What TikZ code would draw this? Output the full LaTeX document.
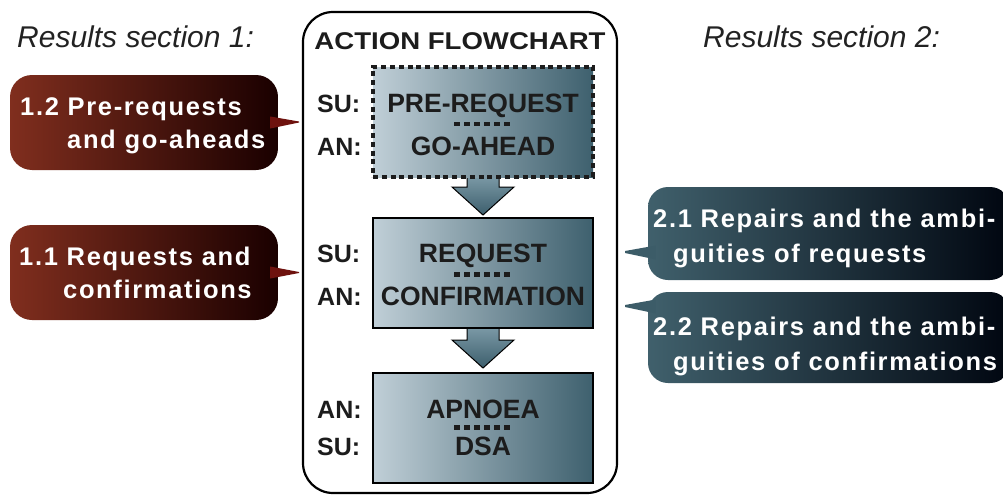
\documentclass[tikz,border=0pt]{standalone}
\usepackage{fontspec}
\setmainfont{Liberation Sans}
\newfontfamily\boxfont{Liberation Sans Bold}
\newfontfamily\headfont[FakeStretch=1.14]{Liberation Sans Bold}
\newfontfamily\callfont[LetterSpace=6.5]{Liberation Sans Bold}
\newfontfamily\itfont{Liberation Sans Italic}
\usetikzlibrary{calc}
\definecolor{txt}{RGB}{28,28,28}
\definecolor{boxL}{RGB}{192,207,215}
\definecolor{boxR}{RGB}{62,96,110}
\definecolor{arrT}{RGB}{125,155,168}
\definecolor{arrB}{RGB}{60,94,108}
\definecolor{redL}{RGB}{128,46,30}
\definecolor{redM}{RGB}{90,6,0}
\definecolor{redR}{RGB}{26,0,0}
\definecolor{redP}{RGB}{110,18,14}
\definecolor{tealL}{RGB}{64,96,108}
\definecolor{tealM}{RGB}{24,52,64}
\definecolor{tealR}{RGB}{0,6,16}
\definecolor{tealP}{RGB}{60,92,104}
\definecolor{ittxt}{RGB}{34,34,34}
\tikzset{
  flowbox/.style={draw=black, line width=2, minimum width=220, minimum height=110, inner sep=0, left color=boxL, right color=boxR},
  boxtxt/.style={font=\boxfont\fontsize{26.5}{30}\selectfont, text=txt, anchor=base, inner sep=0},
  sidelbl/.style={font=\boxfont\fontsize{25}{30}\selectfont, text=txt, anchor=base west, inner sep=0},
  sepline/.style={line width=4.5, dash pattern=on 5.6 off 4.4, draw=txt},
  blockarrow/.style={draw=black, line width=1, top color=arrT, bottom color=arrB},
  leftcall/.style={rounded corners=22, left color=redL, middle color=redM, right color=redR, minimum width=268, minimum height=95, inner sep=0},
  rightcall/.style={rounded corners=20, left color=tealL, middle color=tealM, right color=tealR, minimum width=362, inner sep=0},
  calltxt/.style={font=\callfont\fontsize{25.5}{30}\selectfont, text=white, anchor=base west, inner sep=0},
  ittitle/.style={font=\itfont\fontsize{30}{34}\selectfont, text=ittxt, anchor=base west, inner sep=0},
}
\begin{document}
\begin{tikzpicture}[x=1pt,y=-1pt]
\useasboundingbox (0,0) rectangle (1003,495);
% outer frame
\node[draw=black, line width=2.2, rounded corners=30, minimum width=314, minimum height=481, inner sep=0] (frame) at (460,252.5) {};
\node[font=\headfont\fontsize{24.2}{28}\selectfont, text=txt, anchor=base, inner sep=0] (head) at (460,50) {ACTION FLOWCHART};
% titles
\node[ittitle] (rs1) at (17,48) {Results section 1:};
\node[ittitle] (rs2) at (703,48) {Results section 2:};
% block arrows (drawn first)
\coordinate (b1s) at (483,177);
\coordinate (b2s) at (483,328);
\draw[blockarrow] ($(b1s)+(-16,-2)$) -- ($(b1s)+(-16,10)$) -- ($(b1s)+(-31,10)$) -- ($(b1s)+(0,38)$) -- ($(b1s)+(31,10)$) -- ($(b1s)+(16,10)$) -- ($(b1s)+(16,-2)$) -- cycle;
\draw[blockarrow] ($(b2s)+(-16,-2)$) -- ($(b2s)+(-16,12)$) -- ($(b2s)+(-31,12)$) -- ($(b2s)+(0,40)$) -- ($(b2s)+(31,12)$) -- ($(b2s)+(16,12)$) -- ($(b2s)+(16,-2)$) -- cycle;
% boxes
\node[flowbox, draw=txt, line width=3.5, dash pattern=on 5 off 3.8] (b1) at (483,122) {};
\node[flowbox] (b2) at (483,273) {};
\node[flowbox] (b3) at (483,427.5) {};
% box texts
\node[boxtxt] (t1a) at (483,112) {PRE-REQUEST};
\node[boxtxt] (t1b) at (483,155) {GO-AHEAD};
\draw[sepline] ($(b1)+(-29,2)$) -- ($(b1)+(27,2)$);
\node[boxtxt] (t2a) at (483,262) {REQUEST};
\node[boxtxt] (t2b) at (483,305) {CONFIRMATION};
\draw[sepline] ($(b2)+(-29,1.5)$) -- ($(b2)+(27,1.5)$);
\node[boxtxt] (t3a) at (483,418) {APNOEA};
\node[boxtxt] (t3b) at (483,455) {DSA};
\draw[sepline] ($(b3)+(-29,0)$) -- ($(b3)+(27,0)$);
% side labels
\node[sidelbl] (l1a) at (317,112) {SU:};
\node[sidelbl] (l1b) at (317,155) {AN:};
\node[sidelbl] (l2a) at (317,262) {SU:};
\node[sidelbl] (l2b) at (317,305) {AN:};
\node[sidelbl] (l3a) at (317,418) {AN:};
\node[sidelbl] (l3b) at (317,455) {SU:};
% left callouts
\node[leftcall] (c12) at (144,122.5) {};
\coordinate (p12) at (299,121.5);
\fill[redP] ($(c12.east)+(-8,-6)$) -- (p12) -- ($(p12)+(0,1)$) -- ($(c12.east)+(-8,6)$) -- cycle;
\node[calltxt] (c12a) at (20,115) {1.2 Pre-requests};
\node[calltxt] (c12b) at (67,148) {and go-aheads};
\node[leftcall] (c11) at (144,272.5) {};
\coordinate (p11) at (299,272);
\fill[redP] ($(c11.east)+(-8,-6)$) -- (p11) -- ($(p11)+(0,1)$) -- ($(c11.east)+(-8,6)$) -- cycle;
\node[calltxt] (c11a) at (19,265) {1.1 Requests and};
\node[calltxt] (c11b) at (63,298) {confirmations};
% right callouts
\node[rightcall, minimum height=93] (c21) at (829,233.5) {};
\coordinate (p21) at (625,252);
\fill[tealP] ($(c21.west)+(8,12)$) -- ($(p21)+(0,-1)$) -- ($(p21)+(0,1)$) -- ($(c21.west)+(8,26)$) -- cycle;
\node[calltxt] (c21a) at (653,227) {2.1 Repairs and the ambi-};
\node[calltxt] (c21b) at (673,262) {guities of requests};
\node[rightcall, minimum height=91] (c22) at (829,337.5) {};
\coordinate (p22) at (625,306);
\fill[tealP] ($(c22.west)+(8,-38)$) -- ($(p22)+(0,-1)$) -- ($(p22)+(0,1)$) -- ($(c22.west)+(8,-24)$) -- cycle;
\node[calltxt] (c22a) at (653,335) {2.2 Repairs and the ambi-};
\node[calltxt] (c22b) at (673,370) {guities of confirmations};
\end{tikzpicture}
\end{document}
